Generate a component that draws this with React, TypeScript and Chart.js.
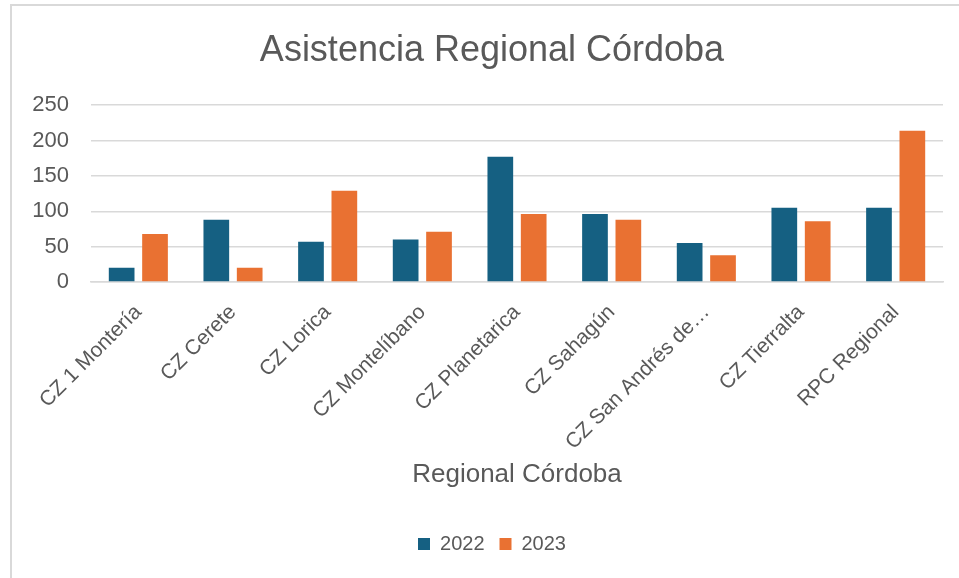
import React, { useEffect, useRef } from "react";
import { Chart, registerables } from "chart.js";

Chart.register(...registerables);

const categories = [
  "CZ 1 Montería",
  "CZ Cerete",
  "CZ Lorica",
  "CZ Montelíbano",
  "CZ Planetarica",
  "CZ Sahagún",
  "CZ San Andrés de…",
  "CZ Tierralta",
  "RPC Regional",
];
const series2022 = [20, 88, 57, 60, 177, 96, 55, 105, 105];
const series2023 = [68, 20, 129, 71, 96, 88, 38, 86, 214];
const yTicks = [0, 50, 100, 150, 200, 250];

const FONT = "'Liberation Sans', Arial, sans-serif";
const TEXT = "#595959";
const GRID = "#D9D9D9";

export default function App() {
  const ref = useRef<HTMLCanvasElement | null>(null);

  useEffect(() => {
    if (!ref.current) return;
    const chart = new Chart(ref.current, {
      type: "bar",
      data: {
        labels: categories,
        datasets: [
          {
            label: "2022",
            data: series2022,
            backgroundColor: "#156082",
            categoryPercentage: 0.705,
            barPercentage: 0.77,
            yAxisID: "y",
          },
          {
            label: "2023",
            data: series2023,
            backgroundColor: "#E97132",
            categoryPercentage: 0.705,
            barPercentage: 0.77,
            yAxisID: "y",
          },
        ],
      },
      options: {
        animation: false,
        responsive: false,
        maintainAspectRatio: false,
        layout: { padding: { left: 0, right: 0, top: 0, bottom: 14 } },
        plugins: {
          title: {
            display: true,
            text: "Asistencia Regional Córdoba",
            color: TEXT,
            font: { family: FONT, size: 36, weight: "normal" },
            padding: { top: 23, bottom: 33 },
          },
          legend: {
            display: true,
            position: "bottom",
            labels: {
              color: TEXT,
              font: { family: FONT, size: 20 },
              boxWidth: 12,
              boxHeight: 12,
              padding: 15,
            },
          },
          tooltip: { enabled: false },
        },
        scales: {
          x: {
            grid: { display: false },
            border: { display: true, color: GRID, width: 1.5 },
            ticks: {
              color: TEXT,
              font: { family: FONT, size: 21 },
              minRotation: 45,
              maxRotation: 45,
              autoSkip: false,
              padding: 10,
            },
            title: {
              display: true,
              text: "Regional Córdoba",
              color: TEXT,
              font: { family: FONT, size: 26 },
              padding: { top: 0, bottom: 29 },
            },
            afterFit: (scale: any) => {
              scale.height = 237;
            },
          },
          y: {
            position: "left",
            min: 0,
            max: 250,
            afterBuildTicks: (scale: any) => {
              scale.ticks = yTicks.map((v) => ({ value: v }));
            },
            grid: { color: GRID, lineWidth: 1.5, drawTicks: false },
            border: { display: false },
            ticks: {
              color: TEXT,
              font: { family: FONT, size: 22 },
              padding: 22,
            },
            afterFit: (scale: any) => {
              scale.width = 79;
            },
          },
          yRight: {
            position: "right",
            display: true,
            min: 0,
            max: 1,
            grid: { display: false, drawTicks: false },
            border: { display: false },
            ticks: { display: false },
            afterFit: (scale: any) => {
              scale.width = 29;
            },
          },
        },
      },
    });
    return () => chart.destroy();
  }, []);

  return (
    <div
      style={{
        position: "fixed",
        left: 0,
        top: 0,
        width: 959,
        height: 578,
        overflow: "hidden",
        background: "#fff",
      }}
    >
      <div
        style={{
          position: "absolute",
          left: 10,
          top: 4,
          width: 1000,
          height: 700,
          borderTop: `2px solid ${GRID}`,
          borderLeft: `2px solid ${GRID}`,
        }}
      />
      <canvas
        ref={ref}
        width={960}
        height={572}
        style={{ position: "absolute", left: 12, top: 6, width: 960, height: 572 }}
      />
    </div>
  );
}
